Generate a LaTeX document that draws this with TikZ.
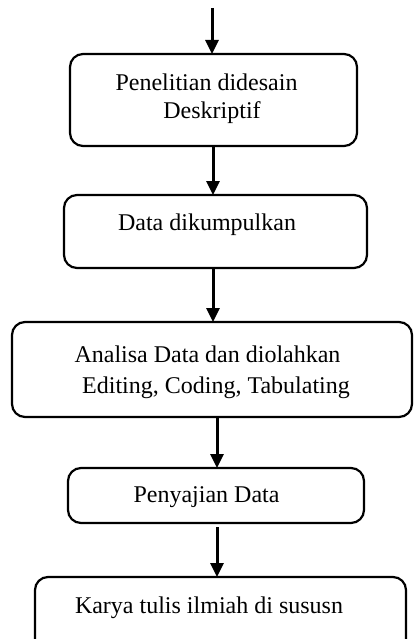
\documentclass[tikz,border=0pt]{standalone}
\usepackage{fontspec}
\setmainfont{Liberation Serif}
\usetikzlibrary{arrows.meta,calc}
\begin{document}
\begin{tikzpicture}[x=1pt,y=-1pt,
  box/.style={draw, line width=2.2pt, rounded corners=13pt, inner sep=0pt, outer sep=0pt},
  txt/.style={font=\fontsize{24}{29}\selectfont, anchor=base, inner sep=0pt},
  arr/.style={line width=3pt, -{Triangle[width=13pt,length=14pt]}}]
\path[use as bounding box, clip] (0,0) rectangle (413,639);

% process boxes
\node[box, minimum width=287pt, minimum height=92pt] (b1) at (213.5,100) {};
\node[box, minimum width=303pt, minimum height=73pt] (b2) at (215.5,231.5) {};
\node[box, minimum width=400pt, minimum height=95pt] (b3) at (212,369.5) {};
\node[box, minimum width=296pt, minimum height=55pt] (b4) at (216,495.5) {};
\node[box, minimum width=371pt, minimum height=90pt] (b5) at (220.5,622) {};

% box labels
\node[txt] (t1a) at (206.5,91) {Penelitian didesain};
\node[txt] (t1b) at (212,119) {Deskriptif};
\node[txt] (t2) at (207,230) {Data dikumpulkan};
\node[txt] (t3a) at (207.5,362) {Analisa Data dan diolahkan};
\node[txt] (t3b) at (216,393) {Editing, Coding, Tabulating};
\node[txt] (t4) at (206.5,502) {Penyajian Data};
\node[txt] (t5) at (209,613) {Karya tulis ilmiah di sususn};

% arrow columns
\coordinate (start) at (212,8);
\coordinate (x2) at (213,0);
\coordinate (x3) at (213,0);
\coordinate (x4) at (217,0);
\coordinate (x5) at (217,0);

% connectors
\draw[arr] (start) -- (b1.north -| start);
\draw[arr] (b1.south -| x2) -- (b2.north -| x2);
\draw[arr] (b2.south -| x3) -- (b3.north -| x3);
\draw[arr] (b3.south -| x4) -- (b4.north -| x4);
\draw[arr, shorten <=4pt] (b4.south -| x5) -- (b5.north -| x5);
\end{tikzpicture}
\end{document}
